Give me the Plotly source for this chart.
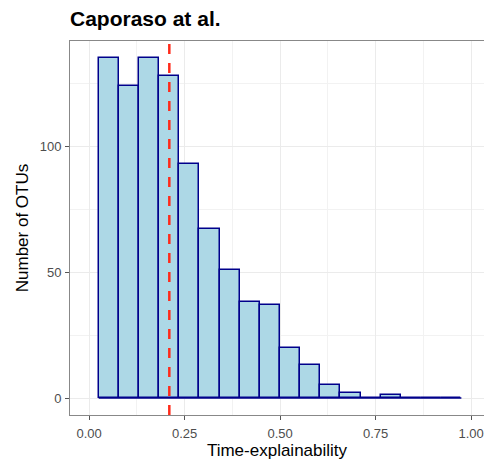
import plotly.graph_objects as go

# Histogram data
bin_start = 0.0251
bin_width = 0.05275
counts = [135, 124, 135, 128, 93, 67, 51, 38, 37, 20, 13, 5, 2, 0, 1, 0, 0, 0]
median_line = 0.21
x_ticks = [0.0, 0.25, 0.5, 0.75, 1.0]
x_tick_labels = ["0.00", "0.25", "0.50", "0.75", "1.00"]
y_ticks = [0, 50, 100]

centers = [bin_start + bin_width * (i + 0.5) for i in range(len(counts))]
edges_end = bin_start + bin_width * len(counts)

fig = go.Figure()
# baseline outline for (zero-height) bins
fig.add_trace(go.Scatter(x=[bin_start, edges_end], y=[0, 0], mode="lines",
                         line=dict(color="#00008B", width=1.5), hoverinfo="skip",
                         showlegend=False))
fig.add_trace(go.Bar(x=centers, y=counts, width=bin_width,
                     marker=dict(color="#ADD8E6", line=dict(color="#00008B", width=1.5)),
                     showlegend=False))

fig.add_shape(type="line", x0=median_line, x1=median_line, xref="x",
              y0=0, y1=1, yref="paper",
              line=dict(color="#FF2A1A", width=2.5, dash="10px,9px"))

FONT = "Liberation Sans, Arial, sans-serif"
tickfont = dict(family=FONT, size=13, color="#4D4D4D")
titlefont = dict(family=FONT, size=17, color="#000000")

fig.update_layout(
    width=484, height=462,
    margin=dict(l=70, r=0, t=41, b=47),
    paper_bgcolor="white", plot_bgcolor="white",
    bargap=0,
    title=dict(text="<b>Caporaso at al.</b>", x=70/484, xanchor="left",
               y=1 - 19/462, yanchor="middle", yref="container",
               font=dict(family=FONT, size=21, color="#000000")),
    xaxis=dict(range=[-0.05, 1.0338], tickvals=x_ticks, ticktext=x_tick_labels,
               tickfont=tickfont, ticks="outside", ticklen=4, tickcolor="#555555",
               ticklabelstandoff=2,
               showline=True, linecolor="#888888", linewidth=1, mirror=True,
               showgrid=True, gridcolor="#EBEBEB", gridwidth=1, zeroline=False,
               minor=dict(tickvals=[0.125, 0.375, 0.625, 0.875], showgrid=True,
                          gridcolor="#F2F2F2", gridwidth=1),
               title=dict(text="Time-explainability", font=titlefont, standoff=4)),
    yaxis=dict(range=[-6.75, 141.75], tickvals=y_ticks,
               tickfont=tickfont, ticks="outside", ticklen=4, tickcolor="#555555",
               ticklabelstandoff=1,
               showline=True, linecolor="#888888", linewidth=1, mirror=False,
               showgrid=True, gridcolor="#EBEBEB", gridwidth=1, zeroline=False,
               minor=dict(tickvals=[25, 75, 125], showgrid=True,
                          gridcolor="#F2F2F2", gridwidth=1),
               title=dict(text="Number of OTUs", font=titlefont, standoff=6)),
)

fig.write_html("out.html")
